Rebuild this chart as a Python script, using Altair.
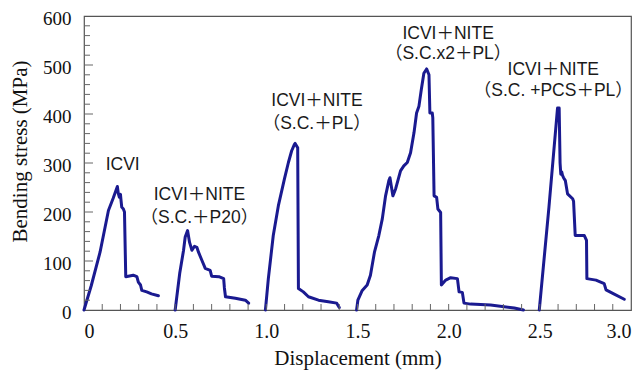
import altair as alt
import pandas as pd

# ---- curve data (displacement mm, bending stress MPa) ----
x1 = [0.0, 0.04, 0.088, 0.134, 0.160, 0.183, 0.188, 0.194, 0.200, 0.203, 0.207, 0.216, 0.222, 0.229, 0.270, 0.290, 0.298, 0.310, 0.317, 0.344, 0.370, 0.408]
y1 = [0, 50, 118, 203, 228, 252, 238, 230, 236, 224, 210, 206, 200, 68, 71, 68, 57, 51, 40, 37, 33, 29]

x2 = [0.500, 0.525, 0.546, 0.555, 0.568, 0.579, 0.592, 0.606, 0.619, 0.628, 0.647, 0.665, 0.692, 0.700, 0.740, 0.766, 0.770, 0.776, 0.830, 0.885, 0.903]
y2 = [0, 75, 122, 149, 162, 138, 122, 130, 128, 118, 101, 85, 81, 69, 68, 64, 45, 27, 24, 20, 14]

x3 = [0.995, 1.011, 1.038, 1.066, 1.099, 1.121, 1.139, 1.154, 1.158, 1.172, 1.176, 1.203, 1.231, 1.286, 1.340, 1.386, 1.400]
y3 = [0, 64, 152, 213, 267, 301, 325, 338, 340, 331, 44, 37, 27, 20, 17, 14, 5]

x4 = [1.495, 1.502, 1.526, 1.553, 1.571, 1.593, 1.617, 1.636, 1.654, 1.672, 1.678, 1.694, 1.709, 1.736, 1.754, 1.773, 1.791, 1.810, 1.824, 1.837, 1.850, 1.864, 1.879, 1.892, 1.897, 1.910, 1.913, 1.920, 1.934, 1.941, 1.956, 1.960, 1.984, 2.011, 2.048, 2.057, 2.075, 2.084, 2.120, 2.230, 2.360, 2.410]
y4 = [0, 20, 40, 51, 71, 118, 152, 186, 233, 264, 270, 233, 247, 284, 294, 301, 321, 362, 402, 416, 450, 483, 492, 480, 402, 402, 392, 233, 230, 206, 199, 51, 61, 66, 64, 37, 36, 14, 12, 10, 4, 0]

x5 = [2.497, 2.550, 2.597, 2.606, 2.611, 2.615, 2.620, 2.625, 2.630, 2.640, 2.652, 2.680, 2.685, 2.694, 2.744, 2.756, 2.758, 2.808, 2.853, 2.863, 2.900, 2.963]
y5 = [0, 210, 412, 412, 300, 277, 282, 274, 270, 264, 237, 227, 222, 152, 152, 142, 64, 61, 54, 41, 34, 22]

series_x = [x1, x2, x3, x4, x5]
series_y = [y1, y2, y3, y4, y5]

# ---- annotation labels ----
label_text = ["ICVI", "ICVI＋NITE", "（S.C.＋P20）", "ICVI＋NITE", "（S.C.＋PL）",
              "ICVI＋NITE", "（S.C.x2＋PL）", "ICVI＋NITE", "（S.C. +PCS＋PL）"]
label_x = [0.212, 0.633, 0.633, 1.278, 1.276, 1.997, 1.997, 2.574, 2.574]
label_y = [295, 234, 188, 426, 380, 564, 522, 490, 446]

# ---- axis tick values ----
x_major = [0, 0.5, 1.0, 1.5, 2.0, 2.5, 3.0]
y_major = [0, 100, 200, 300, 400, 500, 600]
x_minor = [round(0.1 * i, 1) for i in range(1, 30)]
y_minor = [20 * i for i in range(1, 30) if (20 * i) % 100 != 0]
y_major_inner = [100, 200, 300, 400, 500]

rows = []
for s, (xs, ys) in enumerate(zip(series_x, series_y)):
    for i, (a, b) in enumerate(zip(xs, ys)):
        rows.append({"series": s, "idx": i, "x": a, "y": b})
df = pd.DataFrame(rows)

W, H = 547, 294
xscale = alt.Scale(domain=[0, 3], nice=False, zero=False)
yscale = alt.Scale(domain=[0, 600], nice=False)
serif = "Liberation Serif"
sans = "Liberation Sans, Noto Sans CJK JP"
LINE = "#1a1a90"

xaxis = alt.Axis(
    values=x_major, labelExpr="datum.value == 0 ? '0' : format(datum.value, '.1f')",
    title="Displacement (mm)", titleFont=serif, titleFontSize=21, titleFontWeight="normal",
    titleColor="#111", titleY=48, titleBaseline="middle",
    labelFont=serif, labelFontSize=20, labelColor="#111", labelPadding=21,
    labelBaseline="middle",
    tickSize=0, domain=False, grid=False)
yaxis = alt.Axis(
    values=y_major, format="d",
    title="Bending stress (MPa)", titleFont=serif, titleFontSize=21, titleFontWeight="normal",
    titleColor="#111", titleX=-64, titleY=135, titleAlign="center", titleBaseline="middle",
    labelFont=serif, labelFontSize=19, labelColor="#111", labelPadding=13, labelOffset=2,
    tickSize=0, domain=False, grid=False)

lines = alt.Chart(df).mark_line(color=LINE, strokeWidth=3, strokeJoin="round", strokeCap="round").encode(
    x=alt.X("x:Q", scale=xscale, axis=xaxis),
    y=alt.Y("y:Q", scale=yscale, axis=yaxis),
    detail="series:N",
    order="idx:Q",
)

xt = alt.Chart(pd.DataFrame({"x": x_minor})).mark_rule(color="#666", strokeWidth=1).encode(
    x=alt.X("x:Q", scale=xscale, axis=xaxis),
    y=alt.value(H), y2=alt.value(H - 6),
)
yt = alt.Chart(pd.DataFrame({"y": y_minor})).mark_rule(color="#666", strokeWidth=1).encode(
    y=alt.Y("y:Q", scale=yscale, axis=yaxis),
    x=alt.value(0), x2=alt.value(6),
)
ytm = alt.Chart(pd.DataFrame({"y": y_major_inner})).mark_rule(color="#666", strokeWidth=1).encode(
    y=alt.Y("y:Q", scale=yscale, axis=yaxis),
    x=alt.value(0), x2=alt.value(9),
)

labels = alt.Chart(pd.DataFrame({"x": label_x, "y": label_y, "txt": label_text})).mark_text(
    font=sans, fontSize=17.5, color="#1a1a1a", align="center", baseline="middle"
).encode(
    x=alt.X("x:Q", scale=xscale, axis=xaxis),
    y=alt.Y("y:Q", scale=yscale, axis=yaxis),
    text="txt:N",
)

chart = alt.layer(lines, xt, yt, ytm, labels).properties(
    width=W, height=H,
    padding={"left": 76, "top": 8, "right": 5, "bottom": 64},
    autosize="none",
    background="white",
).configure_view(stroke="#555", strokeWidth=1.2)

chart.save("out.html", embed_options={"renderer": "svg", "actions": False})
